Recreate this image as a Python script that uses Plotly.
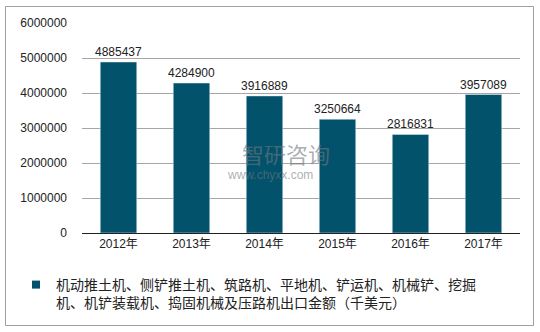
import plotly.graph_objects as go

years = ["2012年", "2013年", "2014年", "2015年", "2016年", "2017年"]
values = [4885437, 4284900, 3916889, 3250664, 2816831, 3957089]
series_name = "机动推土机、侧铲推土机、筑路机、平地机、铲运机、机械铲、挖掘<br>机、机铲装载机、捣固机械及压路机出口金额（千美元）"
y_ticks = [0, 1000000, 2000000, 3000000, 4000000, 5000000, 6000000]
bar_color = "#03526B"

L, R, T, B = 82, 20, 23, 99
W, H = 540, 332
pw, ph = W - L - R, H - T - B

def px_x(p):
    return (p - L) / pw

def px_y(p):
    return (H - B - p) / ph

fig = go.Figure()
fig.add_trace(go.Bar(
    x=years, y=values, name=series_name,
    marker_color=bar_color, width=0.5,
    text=[str(v) for v in values], textposition="outside",
    constraintext="none",
    textfont=dict(size=12, color="#222222", family="Liberation Sans, Arial"),
    cliponaxis=False, showlegend=False,
))
fig.add_trace(go.Scatter(
    x=[None], y=[None], mode="markers", name=series_name,
    marker=dict(symbol="square", size=8, color=bar_color),
    showlegend=True,
))

fig.update_layout(
    width=W, height=H,
    margin=dict(l=L, r=R, t=T, b=B),
    paper_bgcolor="white", plot_bgcolor="white",
    font=dict(family="Liberation Sans, Noto Sans CJK SC, Arial", size=12, color="#222222"),
    bargap=0.5,
    showlegend=True,
    legend=dict(
        orientation="h", x=px_x(16), y=px_y(269), xanchor="left", yanchor="top",
        font=dict(size=14, family="Noto Sans CJK SC, Liberation Sans", color="#222222"),
        valign="top", itemwidth=30, tracegroupgap=0, bgcolor="rgba(0,0,0,0)",
    ),
    xaxis=dict(
        showline=True, linecolor="#222222", linewidth=1,
        ticks="", tickfont=dict(size=12, family="Liberation Sans, Noto Sans CJK SC"),
        fixedrange=True,
    ),
    yaxis=dict(
        range=[0, 6000000], tickvals=y_ticks, ticktext=[str(v) for v in y_ticks],
        showgrid=True, gridcolor="#A6A6A6", gridwidth=1,
        zeroline=False, ticks="", ticklabelstandoff=14,
        tickfont=dict(size=12, family="Liberation Sans, Arial"),
        fixedrange=True,
    ),
    shapes=[dict(
        type="rect", xref="paper", yref="paper",
        x0=px_x(5.5), x1=px_x(533.5), y0=px_y(325.5), y1=px_y(6.5),
        line=dict(color="#A0A0A0", width=1), fillcolor="rgba(0,0,0,0)", layer="below",
    )],
    annotations=[
        dict(text="智研咨询", xref="paper", yref="paper", x=px_x(286), y=px_y(153),
             showarrow=False, font=dict(size=22, color="rgba(110,120,130,0.6)",
                                        family="Noto Sans CJK SC")),
        dict(text="www.chyxx.com", xref="paper", yref="paper", x=px_x(270), y=px_y(184),
             showarrow=False, font=dict(size=12, color="rgba(110,120,130,0.6)",
                                        family="Liberation Sans")),
    ],
)

fig.write_html("out.html")
